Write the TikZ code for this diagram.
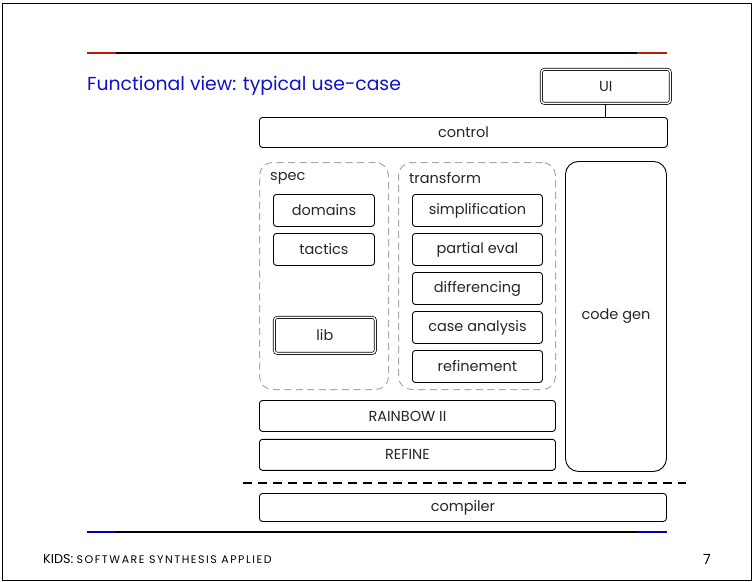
\documentclass[tikz,border=0pt]{standalone}
\usepackage{fontspec}
\setmainfont{Poppins}
\usetikzlibrary{positioning}
\definecolor{titleblue}{HTML}{1010C8}
\definecolor{rulered}{HTML}{B0200C}
\definecolor{rulebl}{HTML}{0000B8}
\definecolor{grp}{HTML}{A8A8A8}

\begin{document}
\begin{tikzpicture}[x=1pt, y=-1pt, font=\fontsize{14.5}{16}\selectfont, node distance=6.1pt,
    box/.style={draw, rounded corners=3pt, line width=0.9pt, inner sep=0pt, minimum height=32pt, text=black!85},
    dbox/.style={box, double, double distance=1.4pt, line width=0.7pt},
    grp/.style={draw=grp, dash pattern=on 7pt off 4.5pt, rounded corners=13pt, line width=1pt, inner sep=0pt},
    grplabel/.style={anchor=west, inner sep=0pt, text=black!85},
    rule/.style={line width=2.2pt}]
  \useasboundingbox (0,0) rectangle (752,581);
  \draw[line width=0.9pt] (2,3) rectangle (751,580);

  % slide frame
  \draw[rule] (116,53) -- (637,53);
  \draw[rule, rulered] (87,53) -- (116,53) (637,53) -- (667,53);
  \draw[rule] (116,532) -- (637,532);
  \draw[rule, rulebl] (87,532) -- (116,532) (637,532) -- (667,532);
  \node[anchor=west, inner sep=0pt, text=titleblue, font=\fontsize{18.8}{21}\selectfont] (title) at (87,86) {Functional view: typical use-case};
  \node[anchor=west, inner sep=0pt, font=\fontsize{12.8}{14}\selectfont] (foot) at (43,559)
    {KIDS: {\fontsize{11}{12}\selectfont\addfontfeature{LetterSpace=14}SOFTWARE SYNTHESIS APPLIED}};
  \node[anchor=center, inner sep=0pt, font=\fontsize{14}{16}\selectfont] (page) at (707,559) {7};

  % top
  \node[dbox, minimum width=129pt, minimum height=34pt, anchor=north west] (ui) at (541,69) {UI};
  \node[box, minimum width=408pt, minimum height=30pt, anchor=north west] (control) at (259,117) {control};
  \draw[line width=0.9pt] (ui.south) -- (ui.south |- control.north);

  % spec
  \node[grp, minimum width=129pt, minimum height=227pt, anchor=north west] (spec) at (259,162) {};
  \node[grplabel] (specl) at ([xshift=11pt, yshift=-16pt]spec.north west) {spec};
  \node[box, minimum width=101pt, anchor=north west] (domains) at (273,194) {domains};
  \node[box, minimum width=101pt, below=of domains] (tactics) {tactics};
  \node[dbox, minimum width=101pt, minimum height=36pt, anchor=north west] (lib) at (274,317) {lib};

  % transform
  \node[grp, minimum width=157pt, minimum height=227pt, anchor=north west] (transform) at (398,162) {};
  \node[grplabel] (transforml) at ([xshift=11pt, yshift=-16pt]transform.north west) {transform};
  \node[box, minimum width=130pt, anchor=north west] (simp) at (412,194) {simplification};
  \node[box, minimum width=130pt, below=of simp] (peval) {partial eval};
  \node[box, minimum width=130pt, below=of peval] (diff) {differencing};
  \node[box, minimum width=130pt, below=of diff] (cases) {case analysis};
  \node[box, minimum width=130pt, below=of cases] (refine) {refinement};

  % code gen
  \node[box, rounded corners=13pt, minimum width=101pt, minimum height=310pt, anchor=north west] (codegen) at (565,161) {code gen};

  % base
  \node[box, minimum width=296pt, minimum height=31pt, anchor=north west] (rainbow) at (259,400) {RAINBOW II};
  \node[box, minimum width=296pt, minimum height=31pt, below=7pt of rainbow] (REFINE) {REFINE};
  \coordinate (sepl) at (243,483);
  \coordinate (sepr) at (686,483);
  \draw[line width=2pt, dash pattern=on 9pt off 6pt] (sepl) -- (sepr);
  \node[box, minimum width=407pt, minimum height=28pt, anchor=north west] (compiler) at (259,493) {compiler};
\end{tikzpicture}
\end{document}
